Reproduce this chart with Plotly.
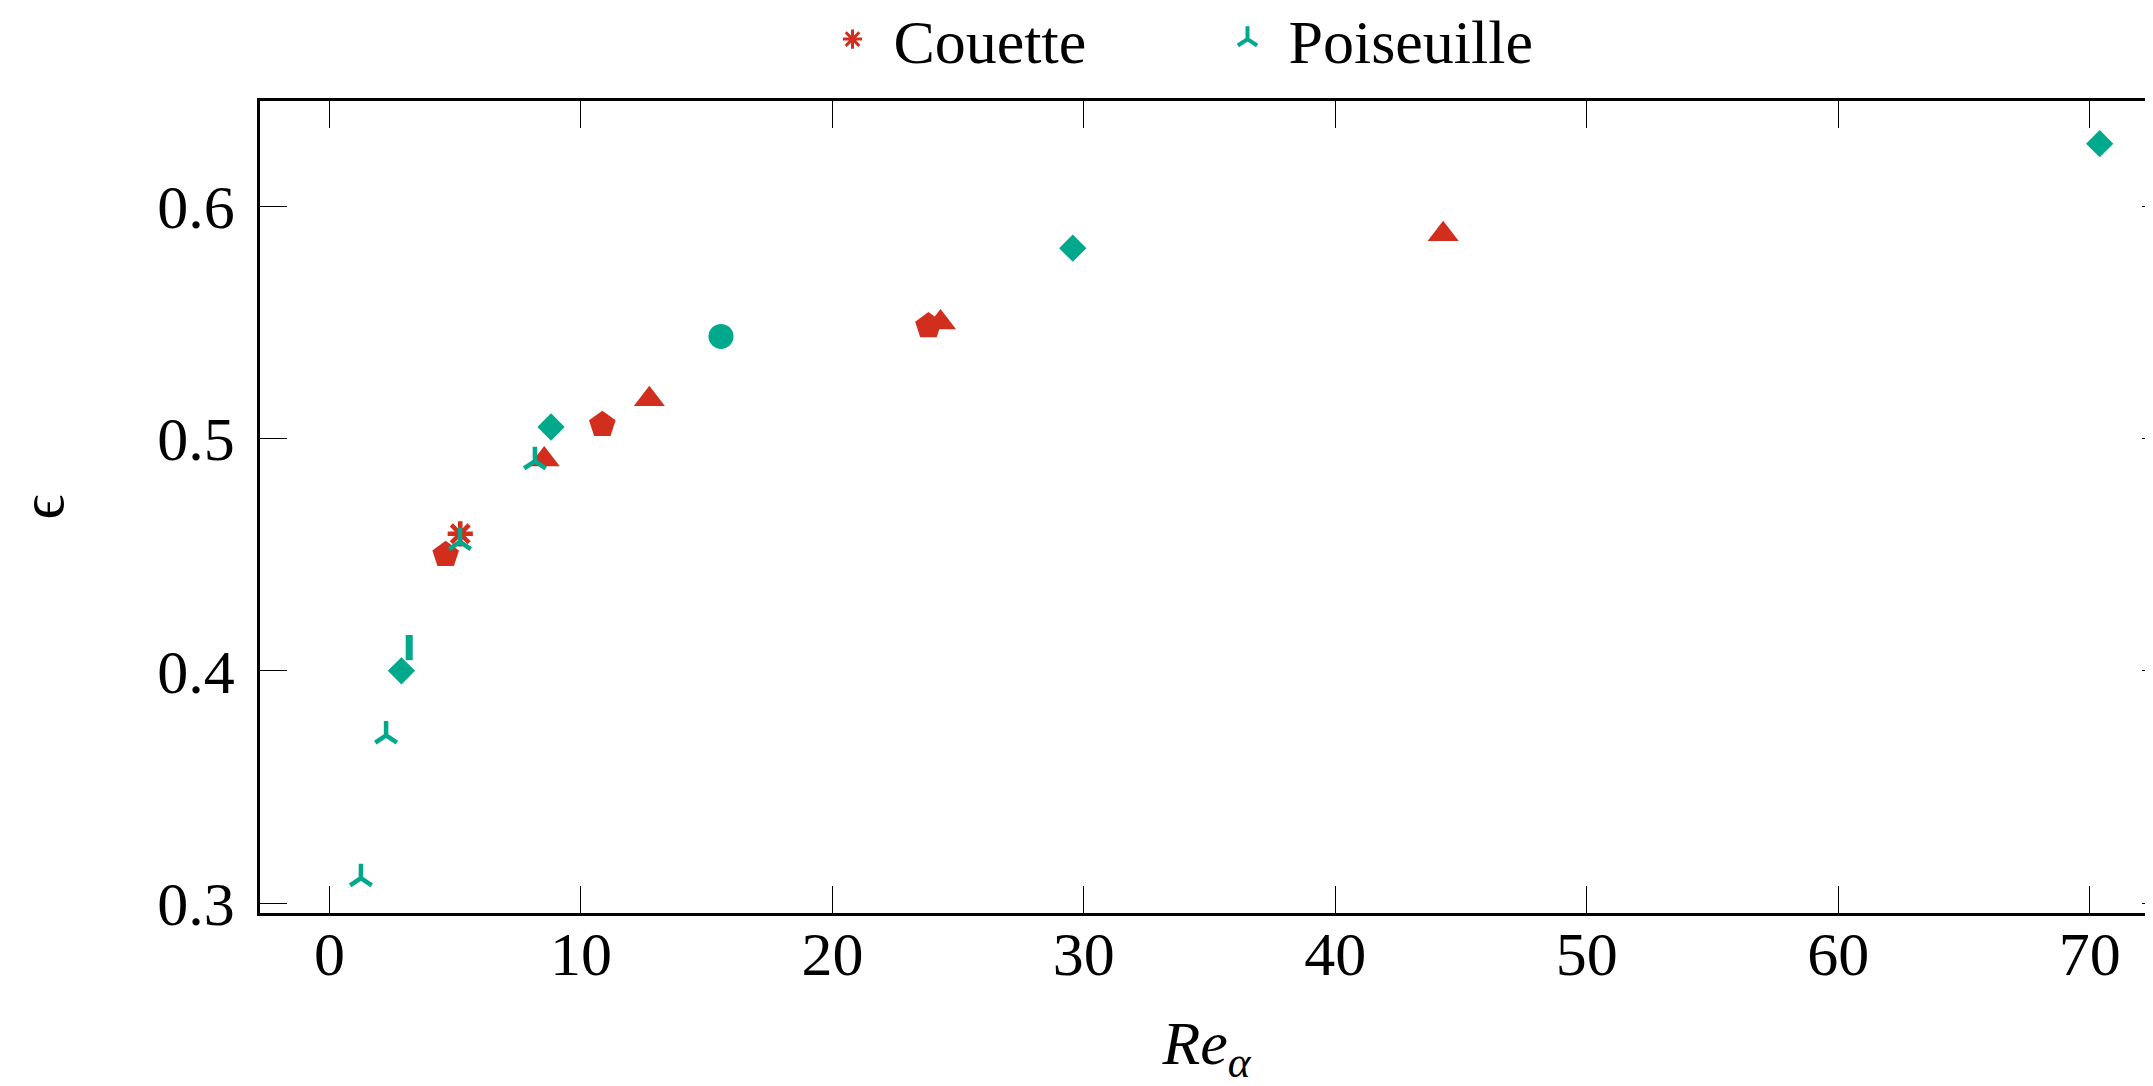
import plotly.graph_objects as go

# ---- data ----
couette_x = [5.2, 4.62, 8.54, 10.85, 12.72, 23.82, 24.3, 44.29]
couette_y = [0.459, 0.450, 0.491, 0.506, 0.517, 0.5485, 0.550, 0.588]
couette_marks = ["asterisk", "pentagon", "triangle-up", "pentagon", "triangle-up",
                 "pentagon", "triangle-up", "triangle-up"]

poiseuille_x = [1.25, 2.25, 2.86, 3.17, 5.19, 8.17, 8.81, 15.57, 29.56, 70.4]
poiseuille_y = [0.3107, 0.3722, 0.400, 0.410, 0.4555, 0.4903, 0.505, 0.544, 0.582, 0.627]
poiseuille_marks = ["y-up", "y-up", "diamond", "line-ns", "y-up", "y-up",
                    "diamond", "circle", "diamond", "diamond"]

series_names = ["Couette", "Poiseuille"]
legend_marks = ["asterisk", "y-up"]

x_ticks = [0, 10, 20, 30, 40, 50, 60, 70]
y_ticks = [0.3, 0.4, 0.5, 0.6]

RED = "#D22E1E"
TEAL = "#00A88C"
FONT = "Liberation Serif"

size_for = {"asterisk": 21, "pentagon": 28, "triangle-up": 27, "y-up": 18,
            "diamond": 21, "line-ns": 18, "circle": 25}
lw_for = {"asterisk": 4.5, "pentagon": 0, "triangle-up": 0, "y-up": 4.5,
          "diamond": 0, "line-ns": 7, "circle": 0}
legend_lw = {"asterisk": 3, "y-up": 4}


def trace(name, xs, ys, marks, color):
    return go.Scatter(
        x=xs, y=ys, mode="markers", name=name, legendgroup=name, showlegend=False,
        marker=dict(symbol=marks, color=color, opacity=1,
                    size=[size_for[m] for m in marks],
                    line=dict(color=color, width=[lw_for[m] for m in marks])),
        cliponaxis=False,
    )


def legend_entry(name, mark, color):
    return go.Scatter(
        x=[None], y=[None], mode="markers", name=name, legendgroup=name,
        showlegend=True,
        marker=dict(symbol=mark, color=color, opacity=1, size=16,
                    line=dict(color=color, width=legend_lw[mark])),
    )


fig = go.Figure()
fig.add_trace(legend_entry(series_names[0], legend_marks[0], RED))
fig.add_trace(legend_entry(series_names[1], legend_marks[1], TEAL))
fig.add_trace(trace(series_names[0], couette_x, couette_y, couette_marks, RED))
fig.add_trace(trace(series_names[1], poiseuille_x, poiseuille_y, poiseuille_marks, TEAL))
# helper trace so the right-hand tick axis is drawn
fig.add_trace(go.Scatter(x=[None], y=[None], yaxis="y2", showlegend=False,
                         hoverinfo="skip"))

# page body has an 8px margin; compensate so the picture lands on the reference grid
W, H = 2145, 1078
L, T, B, R = 252, 93, 173, 0
x_range = [-2.764, 72.52]
y_range = [0.2957, 0.6454]

fig.update_layout(
    width=W, height=H,
    margin=dict(l=L, r=R, t=T, b=B, autoexpand=False),
    paper_bgcolor="white", plot_bgcolor="white",
    font=dict(family=FONT, size=62, color="black"),
    showlegend=True,
    legend=dict(orientation="h", x=0.5, xanchor="center", y=1.076, yanchor="middle",
                font=dict(family=FONT, size=62, color="black"),
                entrywidth=308, entrywidthmode="pixels", itemwidth=72,
                bgcolor="rgba(0,0,0,0)"),
    xaxis=dict(range=x_range, tickvals=x_ticks, ticks="inside", ticklen=27,
               tickwidth=1.3, tickcolor="black", showline=True, linecolor="black",
               linewidth=2.5, mirror="ticks", showgrid=False, zeroline=False,
               ticklabelstandoff=-15,
               tickfont=dict(family=FONT, size=62),
               title=dict(text="<i>Re</i><sub><i>α</i></sub>", standoff=93,
                          font=dict(family=FONT, size=62))),
    yaxis=dict(range=y_range, tickvals=y_ticks, tickformat=".1f", ticks="inside",
               ticklen=27, tickwidth=1.3, tickcolor="black", showline=True,
               linecolor="black", linewidth=2.5, mirror=False, showgrid=False,
               zeroline=False, ticklabelstandoff=10,
               tickfont=dict(family=FONT, size=62),
               title=dict(text="ϵ", standoff=99, font=dict(family=FONT, size=62))),
    yaxis2=dict(range=y_range, overlaying="y", side="right", tickvals=y_ticks,
                ticks="inside", ticklen=11, tickwidth=1.3, tickcolor="black",
                showticklabels=False, showline=False, showgrid=False, zeroline=False),
)

fig.write_html("out.html")
